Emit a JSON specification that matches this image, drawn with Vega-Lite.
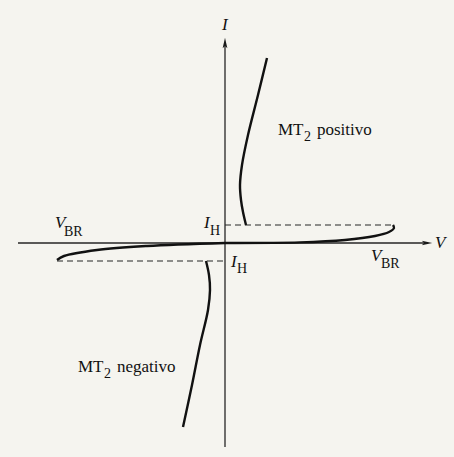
{
  "$schema": "https://vega.github.io/schema/vega-lite/v6.json",
  "width": 454,
  "height": 457,
  "autosize": {"type": "fit", "contains": "padding"},
  "padding": 0,
  "background": "#f5f4ef",
  "config": {"view": {"stroke": null}},
  "datasets": {
    "axes": [
      {"V": -207, "V2": 203, "I": 0, "I2": 0},
      {"V": 0, "V2": 0, "I": -204, "I2": 200}
    ],
    "arrows": [
      {"V": 202, "I": 0, "dir": "right"},
      {"V": 0, "I": 200, "dir": "up"}
    ],
    "curves": [
      {"part": "on+", "k": 0, "V": 42, "I": 185},
      {"part": "on+", "k": 1, "V": 33, "I": 148},
      {"part": "on+", "k": 2, "V": 23, "I": 108},
      {"part": "on+", "k": 3, "V": 17, "I": 78},
      {"part": "on+", "k": 4, "V": 15, "I": 58},
      {"part": "on+", "k": 5, "V": 16, "I": 43},
      {"part": "on+", "k": 6, "V": 18, "I": 31},
      {"part": "on+", "k": 7, "V": 21, "I": 18},
      {"part": "off+", "k": 0, "V": 0, "I": 0},
      {"part": "off+", "k": 1, "V": 75, "I": 0.6},
      {"part": "off+", "k": 2, "V": 120, "I": 3},
      {"part": "off+", "k": 3, "V": 150, "I": 7},
      {"part": "off+", "k": 4, "V": 164, "I": 11},
      {"part": "off+", "k": 5, "V": 169, "I": 15},
      {"part": "off+", "k": 6, "V": 168, "I": 18},
      {"part": "off-", "k": 0, "V": 0, "I": 0},
      {"part": "off-", "k": 1, "V": -78, "I": -3},
      {"part": "off-", "k": 2, "V": -128, "I": -7},
      {"part": "off-", "k": 3, "V": -161, "I": -13},
      {"part": "off-", "k": 4, "V": -168, "I": -17},
      {"part": "on-", "k": 0, "V": -19, "I": -18},
      {"part": "on-", "k": 1, "V": -16, "I": -32},
      {"part": "on-", "k": 2, "V": -15, "I": -47},
      {"part": "on-", "k": 3, "V": -17, "I": -67},
      {"part": "on-", "k": 4, "V": -25, "I": -102},
      {"part": "on-", "k": 5, "V": -33, "I": -142},
      {"part": "on-", "k": 6, "V": -42, "I": -184}
    ],
    "holding": [
      {"V": 0, "V2": 168, "I": 18},
      {"V": -168, "V2": 0, "I": -18}
    ],
    "symbols": [
      {"V": -3, "I": 213, "text": "I"},
      {"V": 210, "I": -5, "text": "V"},
      {"V": -170, "I": 15, "text": "V"},
      {"V": -21, "I": 15, "text": "I"},
      {"V": 6, "I": -24, "text": "I"},
      {"V": 146, "I": -18, "text": "V"}
    ],
    "subscripts": [
      {"V": -161, "I": 7, "text": "BR"},
      {"V": -15, "I": 8, "text": "H"},
      {"V": 12, "I": -30, "text": "H"},
      {"V": 156, "I": -25, "text": "BR"},
      {"V": 79, "I": 102, "text": "2"},
      {"V": -121, "I": -135, "text": "2"}
    ],
    "words": [
      {"V": 53, "I": 108, "text": "MT"},
      {"V": 92, "I": 108, "text": "positivo"},
      {"V": -147, "I": -129, "text": "MT"},
      {"V": -108, "I": -129, "text": "negativo"}
    ]
  },
  "layer": [
    {
      "data": {"name": "axes"},
      "mark": {"type": "rule", "color": "#262626", "strokeWidth": 1.3},
      "encoding": {
        "x": {"field": "V", "type": "quantitative", "scale": {"domain": [-225, 229], "nice": false, "zero": false}, "axis": null},
        "x2": {"field": "V2"},
        "y": {"field": "I", "type": "quantitative", "scale": {"domain": [-214, 243], "nice": false, "zero": false}, "axis": null},
        "y2": {"field": "I2"}
      }
    },
    {
      "data": {"name": "arrows"},
      "transform": [{"filter": "datum.dir === 'right'"}],
      "mark": {"type": "point", "filled": true, "color": "#1a1a1a", "size": 110, "opacity": 1,
               "shape": "M1,0 L-1,-0.45 L-0.55,0 L-1,0.45 Z"},
      "encoding": {
        "x": {"field": "V", "type": "quantitative"},
        "y": {"field": "I", "type": "quantitative"}
      }
    },
    {
      "data": {"name": "arrows"},
      "transform": [{"filter": "datum.dir === 'up'"}],
      "mark": {"type": "point", "filled": true, "color": "#1a1a1a", "size": 110, "opacity": 1,
               "shape": "M0,-1 L-0.45,1 L0,0.55 L0.45,1 Z"},
      "encoding": {
        "x": {"field": "V", "type": "quantitative"},
        "y": {"field": "I", "type": "quantitative"}
      }
    },
    {
      "data": {"name": "holding"},
      "mark": {"type": "rule", "color": "#262626", "strokeWidth": 1.2, "strokeDash": [6, 4]},
      "encoding": {
        "x": {"field": "V", "type": "quantitative"},
        "x2": {"field": "V2"},
        "y": {"field": "I", "type": "quantitative"}
      }
    },
    {
      "data": {"name": "curves"},
      "mark": {"type": "line", "color": "#111111", "strokeWidth": 2.4, "interpolate": "catmull-rom"},
      "encoding": {
        "x": {"field": "V", "type": "quantitative"},
        "y": {"field": "I", "type": "quantitative"},
        "detail": {"field": "part"},
        "order": {"field": "k", "type": "quantitative"}
      }
    },
    {
      "data": {"name": "symbols"},
      "mark": {"type": "text", "font": "Liberation Serif", "fontStyle": "italic", "fontSize": 17,
               "align": "left", "baseline": "alphabetic", "color": "#111111"},
      "encoding": {
        "x": {"field": "V", "type": "quantitative"},
        "y": {"field": "I", "type": "quantitative"},
        "text": {"field": "text"}
      }
    },
    {
      "data": {"name": "subscripts"},
      "mark": {"type": "text", "font": "Liberation Serif", "fontSize": 14,
               "align": "left", "baseline": "alphabetic", "color": "#111111"},
      "encoding": {
        "x": {"field": "V", "type": "quantitative"},
        "y": {"field": "I", "type": "quantitative"},
        "text": {"field": "text"}
      }
    },
    {
      "data": {"name": "words"},
      "mark": {"type": "text", "font": "Liberation Serif", "fontSize": 17,
               "align": "left", "baseline": "alphabetic", "color": "#111111"},
      "encoding": {
        "x": {"field": "V", "type": "quantitative"},
        "y": {"field": "I", "type": "quantitative"},
        "text": {"field": "text"}
      }
    }
  ]
}
